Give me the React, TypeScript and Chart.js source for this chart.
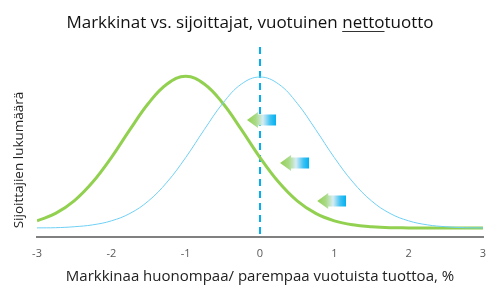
import React, { useEffect, useRef } from "react";
import { Chart, registerables } from "chart.js";

Chart.register(...registerables);

const titleBefore = "Markkinat vs. sijoittajat, vuotuinen ";
const titleUnderlined = "netto";
const titleAfter = "tuotto";
const xAxisTitle = "Markkinaa huonompaa/ parempaa vuotuista tuottoa, %";
const yAxisTitle = "Sijoittajien lukumäärä";

const xs = [-3, -2.75, -2.5, -2.25, -2, -1.75, -1.5, -1.25, -1, -0.75, -0.5, -0.25, 0, 0.25, 0.5, 0.75, 1, 1.25, 1.5, 1.75, 2, 2.25, 2.5, 2.75, 3];
const marketVals = [4.8, 4.9, 5.4, 6.4, 8.5, 12.4, 19.0, 28.9, 41.8, 56.5, 70.4, 80.5, 84.2, 80.5, 70.4, 56.5, 41.8, 28.9, 19.0, 12.4, 8.5, 6.4, 5.4, 4.9, 4.8];
const investorVals = [8.5, 12.4, 19.0, 28.9, 41.8, 56.5, 70.4, 80.5, 84.6, 80.5, 70.4, 56.5, 41.8, 28.9, 19.0, 12.4, 8.5, 6.4, 5.4, 4.9, 4.8, 4.7, 4.7, 4.7, 4.7];

const arrowTipX = [-0.175, 0.27, 0.77];
const arrowTailX = [0.215, 0.66, 1.157];
const arrowY = [61.6, 38.9, 18.9];
const marketLineX = 0;

const FONT = "'Open Sans', 'Noto Sans', sans-serif";

const textPlugin = {
  id: "customText",
  afterDraw(chart: any) {
    const ctx = chart.ctx;
    ctx.save();
    ctx.font = `17px ${FONT}`;
    ctx.fillStyle = "#111111";
    ctx.textBaseline = "alphabetic";
    const full = titleBefore + titleUnderlined + titleAfter;
    const w = ctx.measureText(full).width;
    const x0 = 250 - w / 2;
    const y = 28;
    ctx.textAlign = "left";
    ctx.fillText(full, x0, y);
    const wb = ctx.measureText(titleBefore).width;
    const wu = ctx.measureText(titleUnderlined).width;
    ctx.strokeStyle = "#333333";
    ctx.lineWidth = 1;
    ctx.beginPath();
    ctx.moveTo(x0 + wb, y + 3.5);
    ctx.lineTo(x0 + wb + wu, y + 3.5);
    ctx.stroke();

    ctx.translate(19, 160);
    ctx.rotate(-Math.PI / 2);
    ctx.font = `13.5px ${FONT}`;
    ctx.fillStyle = "#222222";
    ctx.textAlign = "center";
    ctx.textBaseline = "middle";
    ctx.fillText(yAxisTitle, 0, 0);
    ctx.restore();
  },
};

const overlayPlugin = {
  id: "overlay",
  beforeDatasetsDraw(chart: any) {
    const ctx = chart.ctx;
    const xScale = chart.scales.x;
    const area = chart.chartArea;
    const px = xScale.getPixelForValue(marketLineX);
    ctx.save();
    ctx.strokeStyle = "#00B0F0";
    ctx.lineWidth = 2;
    ctx.setLineDash([7, 5]);
    ctx.beginPath();
    ctx.moveTo(px, area.top);
    ctx.lineTo(px, area.bottom);
    ctx.stroke();
    ctx.restore();
  },
  afterDatasetsDraw(chart: any) {
    const ctx = chart.ctx;
    const xScale = chart.scales.x;
    const yScale = chart.scales.y;
    ctx.save();
    for (let i = 0; i < arrowTipX.length; i++) {
      const tx = xScale.getPixelForValue(arrowTipX[i]);
      const ex = xScale.getPixelForValue(arrowTailX[i]);
      const cy = yScale.getPixelForValue(arrowY[i]);
      const headLen = 11;
      const headH = 8;
      const bodyH = 5.5;
      const g = ctx.createLinearGradient(tx, 0, ex, 0);
      g.addColorStop(0, "#92D050");
      g.addColorStop(0.3, "#A9DA86");
      g.addColorStop(0.55, "#D6ECF4");
      g.addColorStop(0.8, "#40C2F2");
      g.addColorStop(1, "#00B0F0");
      ctx.fillStyle = g;
      ctx.beginPath();
      ctx.moveTo(tx, cy);
      ctx.lineTo(tx + headLen, cy - headH);
      ctx.lineTo(tx + headLen, cy - bodyH);
      ctx.lineTo(ex, cy - bodyH);
      ctx.lineTo(ex, cy + bodyH);
      ctx.lineTo(tx + headLen, cy + bodyH);
      ctx.lineTo(tx + headLen, cy + headH);
      ctx.closePath();
      ctx.fill();
    }
    ctx.restore();
  },
};

export default function App() {
  const ref = useRef<HTMLCanvasElement | null>(null);
  useEffect(() => {
    if (!ref.current) return;
    const chart = new Chart(ref.current, {
      type: "line",
      data: {
        datasets: [
          {
            label: "Markkinat",
            data: xs.map((x, i) => ({ x, y: marketVals[i] })),
            borderColor: "#6FD0F5",
            borderWidth: 1,
            pointRadius: 0,
            tension: 0.4,
            fill: false,
          },
          {
            label: "Sijoittajat",
            data: xs.map((x, i) => ({ x, y: investorVals[i] })),
            borderColor: "#92D050",
            borderWidth: 3,
            pointRadius: 0,
            tension: 0.4,
            fill: false,
          },
        ],
      },
      options: {
        animation: false,
        responsive: false,
        maintainAspectRatio: false,
        layout: { padding: { top: 47, right: 17, left: 0, bottom: 0 } },
        plugins: { legend: { display: false }, tooltip: { enabled: false }, title: { display: false } },
        scales: {
          x: {
            type: "linear",
            min: -3,
            max: 3,
            grid: { display: false },
            border: { display: true, color: "#808080", width: 2 },
            ticks: { stepSize: 1, color: "#595959", font: { size: 11, family: FONT }, padding: 2 },
            title: { display: true, text: xAxisTitle, color: "#222222", font: { size: 15, family: FONT }, padding: { top: 2, bottom: 14 } },
            afterFit(scale: any) {
              scale.height = 63;
            },
          },
          y: {
            min: 0,
            max: 100,
            grid: { display: false },
            border: { display: false },
            ticks: { display: false },
            title: { display: false },
            afterFit(scale: any) {
              scale.width = 37;
            },
          },
        },
      },
      plugins: [textPlugin, overlayPlugin],
    } as any);
    return () => chart.destroy();
  }, []);
  return (
    <div style={{ position: "fixed", left: 0, top: 0, width: 500, height: 300, background: "#fff" }}>
      <canvas ref={ref} width={500} height={300} style={{ width: 500, height: 300 }} />
    </div>
  );
}
